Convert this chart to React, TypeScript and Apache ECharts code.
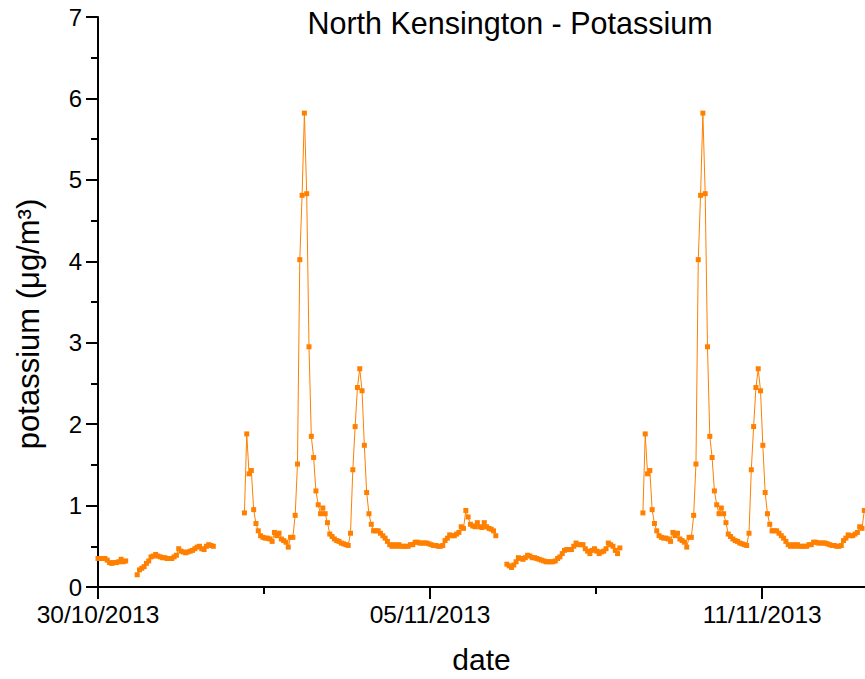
import React, { useEffect, useRef } from "react";
import * as echarts from "echarts";

// hours since 30/10/2013 00:00 at which each run of hourly samples starts
const segmentStarts = [0, 17, 63.5, 177.3, 236.3];

const seg1 = [0.35, 0.35, 0.35, 0.35, 0.33, 0.3, 0.29, 0.3, 0.3, 0.31, 0.34, 0.31, 0.32];

const seg2 = [
  0.15, 0.21, 0.23, 0.25, 0.29, 0.32, 0.37, 0.38, 0.4, 0.38,
  0.37, 0.36, 0.36, 0.35, 0.35, 0.35, 0.37, 0.39, 0.47, 0.44,
  0.43, 0.42, 0.43, 0.44, 0.45, 0.47, 0.49, 0.5, 0.47, 0.46,
  0.5, 0.52, 0.51, 0.5,
];

const seg3 = [
  0.91, 1.88, 1.39, 1.43, 0.95, 0.78, 0.69, 0.63, 0.61, 0.6,
  0.6, 0.59, 0.56, 0.67, 0.63, 0.66, 0.59, 0.57, 0.55, 0.49,
  0.61, 0.61, 0.88, 1.51, 4.02, 4.81, 5.82, 4.83, 2.95, 1.85,
  1.59, 1.18, 1.01, 0.9, 0.97, 0.9, 0.79, 0.65, 0.62, 0.59,
  0.57, 0.56, 0.54, 0.53, 0.52, 0.51, 0.66, 1.44, 1.97, 2.45,
  2.68, 2.41, 1.74, 1.16, 0.9, 0.77, 0.69, 0.69, 0.69, 0.66,
  0.63, 0.6, 0.56, 0.52, 0.5, 0.52, 0.5, 0.52, 0.5, 0.5,
  0.5, 0.5, 0.52, 0.52, 0.55, 0.55, 0.54, 0.54, 0.54, 0.54,
  0.53, 0.52, 0.51, 0.51, 0.5, 0.5, 0.51, 0.57, 0.6, 0.64,
  0.63, 0.63, 0.65, 0.67, 0.74, 0.72, 0.94, 0.86, 0.77, 0.75,
  0.74, 0.79, 0.74, 0.73, 0.79, 0.74, 0.72, 0.71, 0.69, 0.63,
];

const seg4 = [
  0.28, 0.26, 0.24, 0.27, 0.31, 0.36, 0.35, 0.34, 0.36, 0.39,
  0.38, 0.36, 0.36, 0.35, 0.34, 0.33, 0.32, 0.31, 0.31, 0.31,
  0.31, 0.32, 0.35, 0.37, 0.41, 0.45, 0.46, 0.46, 0.46, 0.5,
  0.54, 0.52, 0.52, 0.52, 0.47, 0.44, 0.41, 0.45, 0.47, 0.44,
  0.41, 0.43, 0.44, 0.47, 0.54, 0.52, 0.5, 0.45, 0.41, 0.48,
];

const seg5 = [
  0.91, 1.88, 1.39, 1.43, 0.95, 0.78, 0.69, 0.63, 0.61, 0.6,
  0.6, 0.59, 0.56, 0.67, 0.63, 0.66, 0.59, 0.57, 0.55, 0.49,
  0.61, 0.61, 0.88, 1.51, 4.02, 4.81, 5.82, 4.83, 2.95, 1.85,
  1.59, 1.18, 1.01, 0.9, 0.97, 0.9, 0.79, 0.65, 0.62, 0.59,
  0.57, 0.56, 0.54, 0.53, 0.52, 0.51, 0.66, 1.44, 1.97, 2.45,
  2.68, 2.41, 1.74, 1.16, 0.9, 0.77, 0.69, 0.69, 0.69, 0.66,
  0.63, 0.6, 0.56, 0.52, 0.5, 0.52, 0.5, 0.52, 0.5, 0.5,
  0.5, 0.5, 0.52, 0.52, 0.55, 0.55, 0.54, 0.54, 0.54, 0.54,
  0.53, 0.52, 0.51, 0.51, 0.5, 0.5, 0.51, 0.57, 0.6, 0.64,
  0.63, 0.63, 0.65, 0.67, 0.74, 0.72, 0.94,
];

const segments = [seg1, seg2, seg3, seg4, seg5];

const xMajorTicks = [0, 144, 288];
const xMinorTicks = [72, 216];
const xTickLabels = ["30/10/2013", "05/11/2013", "11/11/2013"];
const xMax = 332.6;

const COLOR = "#ff8000";
const FONT = "Liberation Sans, Arial, sans-serif";

export default function App() {
  const ref = useRef<HTMLDivElement>(null);
  useEffect(() => {
    if (!ref.current) return;
    const chart = echarts.init(ref.current, null, { renderer: "svg" });
    const series = segments.map((vals, i) => ({
      type: "line",
      data: vals.map((v, k) => [segmentStarts[i] + k, v]),
      symbol: "rect",
      symbolSize: 5,
      showSymbol: true,
      showAllSymbol: true,
      color: COLOR,
      itemStyle: { color: COLOR },
      lineStyle: { color: COLOR, width: 1 },
      clip: true,
      xAxisIndex: 0,
      yAxisIndex: 0,
    }));
    chart.setOption({
      animation: false,
      textStyle: { fontFamily: FONT },
      title: {
        text: "North Kensington - Potassium",
        left: 505,
        textAlign: "center",
        top: 2,
        textStyle: { fontFamily: FONT, fontSize: 30.5, fontWeight: "normal", color: "#000" },
      },
      grid: {
        left: 98,
        right: 0,
        top: 17,
        bottom: 92,
        containLabel: false,
        outerBoundsMode: "none",
      },
      xAxis: [
        {
          type: "value",
          min: 0,
          max: xMax,
          interval: 144,
          name: "date",
          nameLocation: "middle",
          nameGap: 57,
          nameTextStyle: { fontFamily: FONT, fontSize: 30, color: "#000" },
          axisLine: { show: true, lineStyle: { color: "#000", width: 2 } },
          axisTick: {
            show: true,
            length: 12,
            customValues: xMajorTicks,
            lineStyle: { color: "#000", width: 2 },
          },
          axisLabel: {
            show: true,
            customValues: xMajorTicks,
            margin: 15,
            fontFamily: FONT,
            fontSize: 24.5,
            color: "#000",
            formatter: (v: number) => {
              const i = xMajorTicks.indexOf(Math.round(v));
              return i >= 0 ? xTickLabels[i] : "";
            },
          },
          splitLine: { show: false },
        },
        {
          type: "value",
          min: 0,
          max: xMax,
          position: "bottom",
          axisLine: { show: false },
          axisTick: {
            show: true,
            length: 7,
            customValues: xMinorTicks,
            lineStyle: { color: "#000", width: 2 },
          },
          axisLabel: { show: false },
          splitLine: { show: false },
        },
      ],
      yAxis: {
        type: "value",
        min: 0,
        max: 7,
        interval: 1,
        name: "potassium (μg/m³)",
        nameLocation: "middle",
        nameGap: 54,
        nameTextStyle: { fontFamily: FONT, fontSize: 31, color: "#000", padding: [0, 44, 0, 0] },
        axisLine: { show: true, lineStyle: { color: "#000", width: 2 } },
        axisTick: { show: true, length: 12, lineStyle: { color: "#000", width: 2 } },
        minorTick: { show: true, splitNumber: 2, length: 7, lineStyle: { color: "#000", width: 2 } },
        axisLabel: { margin: 16, fontFamily: FONT, fontSize: 24, color: "#000" },
        splitLine: { show: false },
        minorSplitLine: { show: false },
      },
      series,
    });
    return () => chart.dispose();
  }, []);
  return (
    <div
      ref={ref}
      style={{ position: "fixed", left: 0, top: 0, width: 865, height: 679, background: "#fff" }}
    />
  );
}
